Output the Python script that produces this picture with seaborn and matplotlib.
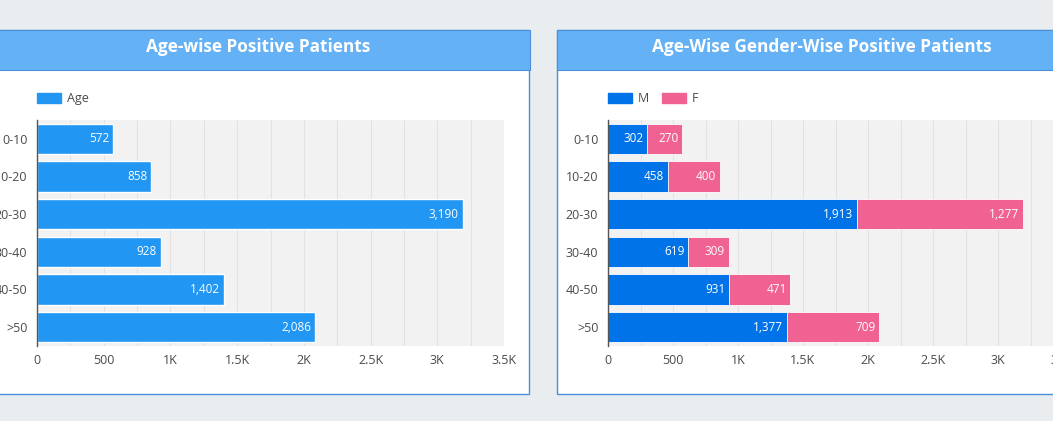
import matplotlib
matplotlib.use("Agg")
import matplotlib.pyplot as plt
from matplotlib.patches import Rectangle, Patch
from matplotlib.ticker import FuncFormatter, MultipleLocator
import seaborn as sns
import pandas as pd

age_groups = ["0-10", "10-20", "20-30", "30-40", "40-50", ">50"]
age_total = [572, 858, 3190, 928, 1402, 2086]
male = [302, 458, 1913, 619, 931, 1377]
female = [270, 400, 1277, 309, 471, 709]

sns.set_theme(style="white")
plt.rcParams["font.family"] = ["Open Sans", "DejaVu Sans"]

W, H = 1053, 421
fig = plt.figure(figsize=(W / 100, H / 100), dpi=100)
fig.patch.set_facecolor("#e9edef")

BLUE = "#2196f3"
MALE = "#0073e8"
FEMALE = "#f06292"
HEAD = "#64b2f5"
TXT = "#4a4a4a"


def px_rect(x0, y0, x1, y1, **kw):
    # pixel coords from top-left
    fig.patches.append(Rectangle((x0 / W, 1 - y1 / H), (x1 - x0) / W, (y1 - y0) / H,
                                 transform=fig.transFigure, figure=fig, zorder=-5, **kw))


def px_axes(x0, y0, x1, y1):
    return fig.add_axes([x0 / W, 1 - y1 / H, (x1 - x0) / W, (y1 - y0) / H])


# panels
px_rect(-30, 30, 529, 394, facecolor="white", edgecolor="#4a90d9", lw=1)
px_rect(-30, 30, 530, 70, facecolor=HEAD, edgecolor="#4a90d9", lw=0.8)
px_rect(557, 30, 1090, 394, facecolor="white", edgecolor="#4a90d9", lw=1)
px_rect(557, 30, 1090, 70, facecolor=HEAD, edgecolor="#4a90d9", lw=0.8)

fig.text(258 / W, 1 - 47 / H, "Age-wise Positive Patients", color="white",
         fontsize=12.4, fontweight="bold", ha="center", va="center")
fig.text(822 / W, 1 - 47 / H, "Age-Wise Gender-Wise Positive Patients", color="white",
         fontsize=12.4, fontweight="bold", ha="center", va="center")


def kfmt(v, pos):
    if v == 0:
        return "0"
    if v < 1000:
        return f"{int(v)}"
    s = f"{v / 1000:.1f}".rstrip("0").rstrip(".")
    return s + "K"


def style_axes(ax):
    ax.set_facecolor("#f2f2f2")
    ax.set_xlim(0, 3500)
    ax.xaxis.set_major_locator(MultipleLocator(500))
    ax.xaxis.set_minor_locator(MultipleLocator(250))
    ax.xaxis.set_major_formatter(FuncFormatter(kfmt))
    ax.grid(axis="x", which="both", color="#e2e2e2", lw=0.8)
    ax.set_axisbelow(True)
    for s in ["top", "right", "bottom"]:
        ax.spines[s].set_visible(False)
    ax.spines["left"].set_color("#555555")
    ax.spines["left"].set_linewidth(1)
    ax.tick_params(axis="both", length=0, labelsize=9, labelcolor=TXT)
    ax.tick_params(axis="x", pad=6)
    ax.tick_params(axis="y", pad=7)
    ax.set_xlabel("")
    ax.set_ylabel("")


def label_bars(ax, starts, widths):
    for i, (s, w) in enumerate(zip(starts, widths)):
        ax.text(s + w - 28, i, f"{w:,}", color="white", fontsize=8.5,
                ha="right", va="center")


def add_legend(ax, handles):
    ax.legend(handles=handles, loc="lower left", bbox_to_anchor=(0, 1.065),
              frameon=False, fontsize=9, ncol=len(handles), columnspacing=1.0,
              handlelength=1.9, handleheight=0.95, handletextpad=0.5,
              labelcolor=TXT, borderaxespad=0, borderpad=0)


# left chart
df_age = pd.DataFrame({"group": age_groups, "count": age_total})
ax1 = px_axes(37, 120, 504, 346)
sns.barplot(data=df_age, x="count", y="group", color=BLUE, saturation=1,
            width=0.8, ax=ax1)
style_axes(ax1)
label_bars(ax1, [0] * len(age_total), age_total)
add_legend(ax1, [Patch(color=BLUE, label="Age")])

# right chart (stacked)
df_gen = pd.DataFrame({"group": age_groups, "M": male, "F": female})
df_gen["total"] = df_gen["M"] + df_gen["F"]
ax2 = px_axes(608, 120, 1063, 346)
sns.barplot(data=df_gen, x="total", y="group", color=FEMALE, saturation=1,
            width=0.8, ax=ax2, edgecolor="white", linewidth=0.6)
sns.barplot(data=df_gen, x="M", y="group", color=MALE, saturation=1,
            width=0.8, ax=ax2, edgecolor="white", linewidth=0.6)
style_axes(ax2)
label_bars(ax2, [0] * len(male), male)
label_bars(ax2, male, female)
add_legend(ax2, [Patch(color=MALE, label="M"), Patch(color=FEMALE, label="F")])

fig.savefig("out.png", dpi=100, facecolor=fig.get_facecolor())
